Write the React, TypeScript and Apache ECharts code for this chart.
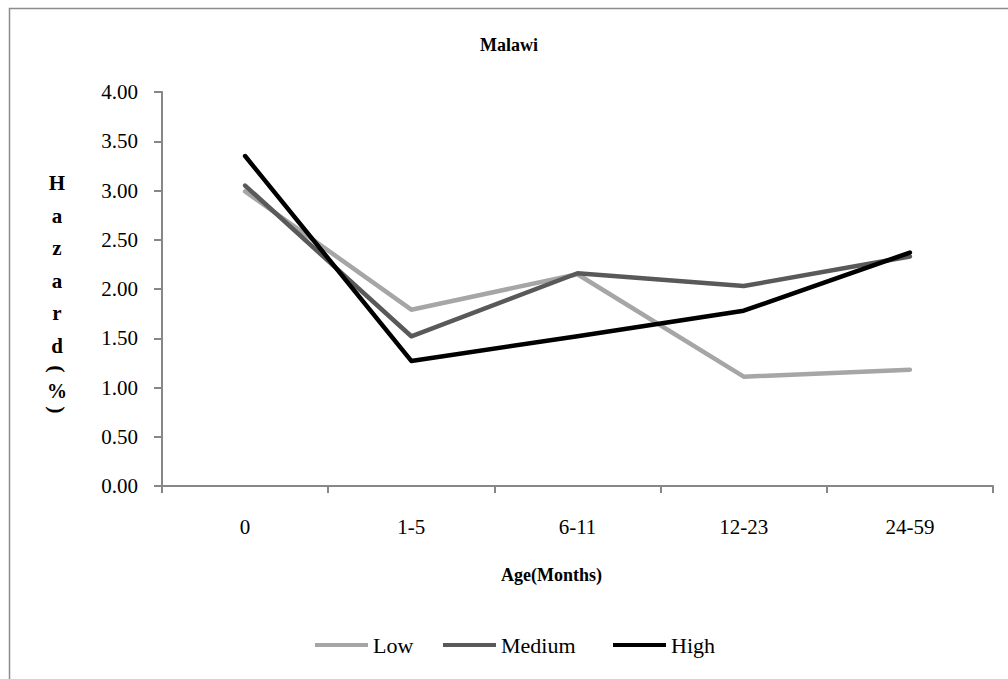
import React, { useEffect, useRef } from "react";
import * as echarts from "echarts";

const categories = ["0", "1-5", "6-11", "12-23", "24-59"];
const lowValues = [2.99, 1.79, 2.15, 1.11, 1.18];
const mediumValues = [3.05, 1.52, 2.16, 2.03, 2.33];
const highValues = [3.35, 1.27, 1.52, 1.78, 2.37];
const seriesNames = ["Low", "Medium", "High"];
const seriesColors = ["#a6a6a6", "#595959", "#000000"];
const yTitleChars = ["H", "a", "z", "a", "r", "d"];

const FONT = "Liberation Serif, serif";
const AXIS_COLOR = "#878787";

export default function App() {
  const ref = useRef<HTMLDivElement>(null);

  useEffect(() => {
    if (!ref.current) return;
    const chart = echarts.init(ref.current, undefined, { renderer: "svg" });

    const seriesData = [lowValues, mediumValues, highValues];
    const legendLefts = [315, 443, 613];

    // vertical stacked y-axis title, one letter per line
    const letterStyle = (text: string, size: number) => ({
      text,
      fontFamily: FONT,
      fontSize: size,
      fontWeight: "bold",
      fill: "#000",
      align: "center",
      verticalAlign: "middle",
    });
    const yTitle: any[] = yTitleChars.map((ch, i) => ({
      type: "text",
      x: 57,
      y: 183 + i * 32.5,
      style: letterStyle(ch, 21),
    }));
    yTitle.push(
      { type: "text", x: 57, y: 369, rotation: -Math.PI / 2, style: letterStyle("(", 22) },
      { type: "text", x: 57, y: 391, style: letterStyle("%", 20) },
      { type: "text", x: 57, y: 410, rotation: -Math.PI / 2, style: letterStyle(")", 22) }
    );

    chart.setOption({
      animation: false,
      backgroundColor: "#fff",
      textStyle: { fontFamily: FONT },
      title: {
        text: "Malawi",
        left: 504,
        textAlign: "center",
        top: 31,
        textStyle: { fontFamily: FONT, fontSize: 18, fontWeight: "bold", color: "#000" },
      },
      legend: seriesNames.map((name, i) => ({
        data: [name],
        left: legendLefts[i],
        top: 634,
        padding: 0,
        icon: "rect",
        itemWidth: 53,
        itemHeight: 4,
        itemGap: 6,
        textStyle: { fontFamily: FONT, fontSize: 22, color: "#000", padding: [0, 0, 0, 0] },
      })),
      grid: { left: 162, top: 92, right: 15, height: 394 },
      xAxis: {
        type: "category",
        data: categories,
        boundaryGap: true,
        name: "Age(Months)",
        nameLocation: "middle",
        nameGap: 80,
        nameTextStyle: { fontFamily: FONT, fontSize: 18, fontWeight: "bold", color: "#000", padding: [0, 52, 0, 0] },
        axisLine: { lineStyle: { color: AXIS_COLOR, width: 2 } },
        axisTick: { show: true, length: 7, interval: 0, lineStyle: { color: AXIS_COLOR, width: 2 } },
        axisLabel: { fontFamily: FONT, fontSize: 21, color: "#000", margin: 30 },
        splitLine: { show: false },
      },
      yAxis: {
        type: "value",
        min: 0,
        max: 4,
        interval: 0.5,
        axisLine: { show: true, lineStyle: { color: AXIS_COLOR, width: 2 } },
        axisTick: { show: true, length: 8, lineStyle: { color: AXIS_COLOR, width: 2 } },
        axisLabel: {
          fontFamily: FONT,
          fontSize: 21,
          color: "#000",
          margin: 24,
          formatter: (v: number) => v.toFixed(2),
        },
        splitLine: { show: false },
      },
      series: seriesNames.map((name, i) => ({
        name,
        type: "line",
        data: seriesData[i],
        symbol: "none",
        color: seriesColors[i],
        lineStyle: { color: seriesColors[i], width: 4.5, cap: "round", join: "round" },
        z: 2 + i,
      })),
      graphic: [
        {
          type: "rect",
          shape: { x: 9.5, y: 8.5, width: 1020, height: 700 },
          style: { fill: "none", stroke: "#8c8c8c", lineWidth: 1.5 },
          silent: true,
        },
        ...yTitle,
      ],
    });

    return () => chart.dispose();
  }, []);

  return (
    <div
      ref={ref}
      style={{ position: "fixed", left: 0, top: 0, width: 1008, height: 679 }}
    />
  );
}
